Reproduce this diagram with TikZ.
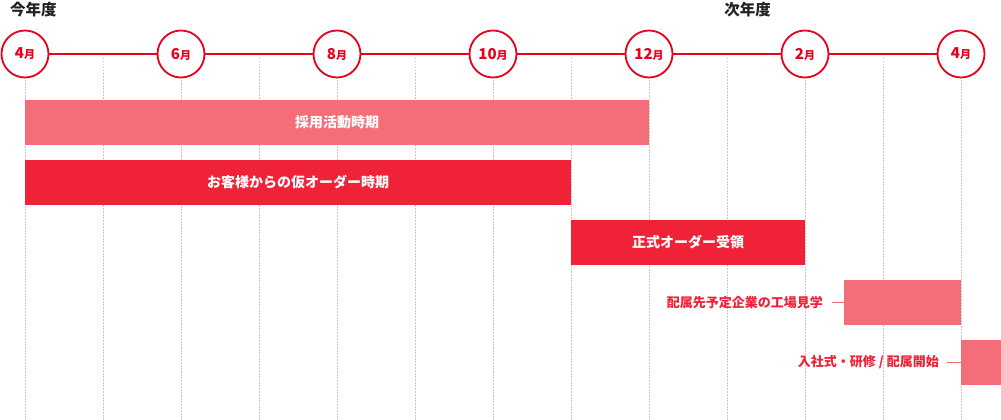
\documentclass[tikz,border=0pt]{standalone}
\usepackage{fontspec}
\setmainfont{Noto Sans CJK JP}
\definecolor{lred}{HTML}{F46E79}
\definecolor{dred}{HTML}{EF2237}
\definecolor{cred}{HTML}{E8001C}
\definecolor{tgrey}{HTML}{222222}
\definecolor{gridc}{HTML}{C8C8C8}
\newcommand\mlab[1]{{\fontsize{15}{15}\selectfont #1}{\fontsize{11}{11}\selectfont 月}}
\begin{document}
\begin{tikzpicture}[x=1pt,y=-1pt,
  month/.style={circle, draw=cred, line width=1.8pt, fill=white, minimum size=47pt, inner sep=0pt, text=cred, font=\bfseries},
  bar/.style={rectangle, inner sep=0pt, minimum height=45pt, text=white, font=\bfseries\fontsize{14}{14}\selectfont},
  lbar/.style={bar, fill=lred},
  dbar/.style={bar, fill=dred},
  yeartitle/.style={inner sep=0pt, text=tgrey, font=\bfseries\fontsize{15.5}{16}\selectfont},
  sidelabel/.style={inner sep=0pt, anchor=east, text=dred, font=\bfseries\fontsize{13}{13}\selectfont},
  gridline/.style={gridc, line width=0.8pt, dash pattern=on 1.5pt off 1.5pt},
  timeline/.style={cred, line width=1.8pt},
  leader/.style={lred, line width=1pt}
]
\useasboundingbox (0,0) rectangle (1001,420);
% grid
\foreach \i in {0,...,12}{
  \pgfmathsetmacro{\gx}{25+78*\i}
  \ifodd\i
    \draw[gridline] (\gx,58) -- (\gx,420);
  \else
    \draw[gridline] (\gx,80) -- (\gx,420);
  \fi
}
% titles
\node[yeartitle, anchor=west] (t1) at (10,10) {今年度};
\node[yeartitle] (t2) at (747.5,10) {次年度};
% months
\node[month] (m1) at (25,54) {\mlab{4}};
\node[month] (m2) at (181,54) {\mlab{6}};
\node[month] (m3) at (337,54) {\mlab{8}};
\node[month] (m4) at (493,54) {\mlab{10}};
\node[month] (m5) at (649,54) {\mlab{12}};
\node[month] (m6) at (805,54) {\mlab{2}};
\node[month] (m7) at (961,54) {\mlab{4}};
\draw[timeline] (m1) -- (m2);
\draw[timeline] (m2) -- (m3);
\draw[timeline] (m3) -- (m4);
\draw[timeline] (m4) -- (m5);
\draw[timeline] (m5) -- (m6);
\draw[timeline] (m6) -- (m7);
% bars
\node[lbar, minimum width=624pt] (b1) at (337,122.5) {採用活動時期};
\node[dbar, minimum width=546pt] (b2) at (298,182.5) {お客様からの仮オーダー時期};
\node[dbar, minimum width=234pt] (b3) at (688,242.5) {正式オーダー受領};
\node[lbar, minimum width=117pt] (b4) at (902.5,302.5) {};
\node[lbar, minimum width=40pt] (b5) at (981,362.5) {};
% side labels
\node[sidelabel] (l4) at (823,302.5) {配属先予定企業の工場見学};
\node[sidelabel] (l5) at (939,362.5) {入社式・研修 / 配属開始};
\draw[leader] ([xshift=9pt]l4.east) -- (b4.west);
\draw[leader] ([xshift=8pt]l5.east) -- (b5.west);
\end{tikzpicture}
\end{document}
